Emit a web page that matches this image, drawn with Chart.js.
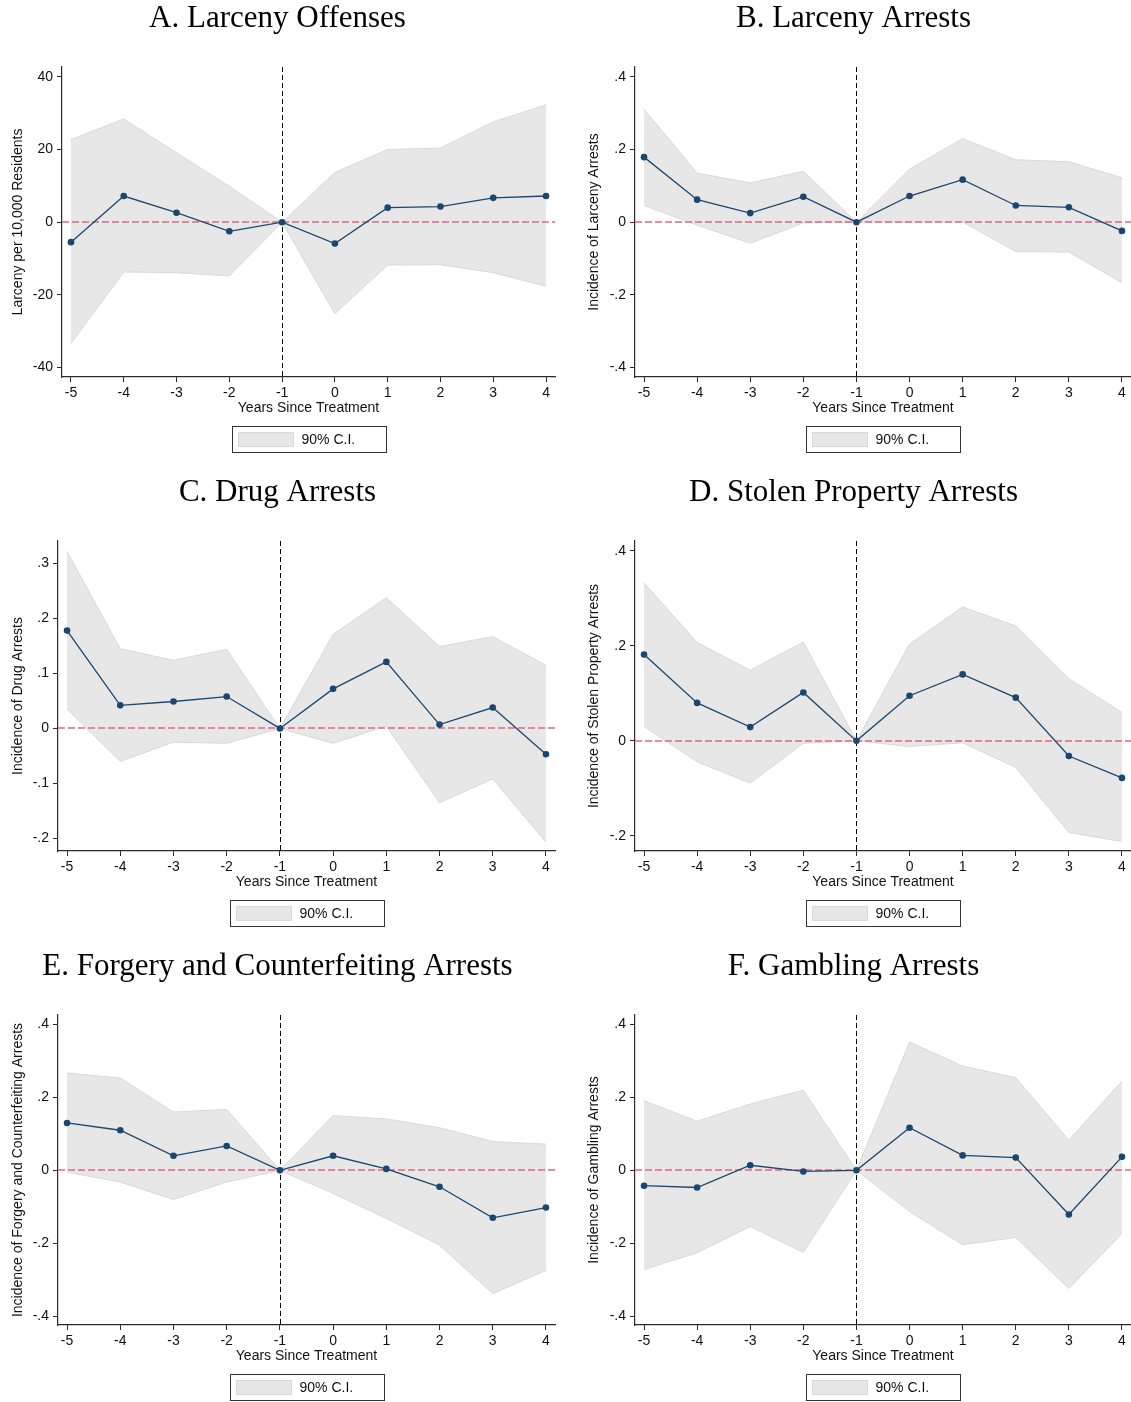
<!DOCTYPE html>
<html>
<head>
<meta charset="utf-8">
<script src="https://cdn.jsdelivr.net/npm/chart.js@4.4.1/dist/chart.umd.min.js"></script>
<style>
  html, body { margin: 0; padding: 0; background: #fff; }
  #wrap { position: relative; width: 1131px; height: 1402px; overflow: hidden; background: #fff; }
  #wrap canvas { position: absolute; }
</style>
</head>
<body>
<div id="wrap"></div>
<script>
// Event-time axis: years relative to treatment
const years = [-5, -4, -3, -2, -1, 0, 1, 2, 3, 4];
const treatYear = -1;
const zeroRef = 0;

// A. Larceny offenses per 10,000 residents
const larcOffEst = [-5.5, 7.2, 2.6, -2.5, 0, -5.9, 4.0, 4.3, 6.7, 7.2];
const larcOffHi  = [22.7, 28.4, 19.1, 9.9, 0, 13.7, 20.0, 20.4, 27.6, 32.3];
const larcOffLo  = [-33.4, -13.7, -13.9, -14.8, 0, -25.2, -11.8, -11.7, -13.9, -17.6];
const larcOffTicks = [-40, -20, 0, 20, 40];

// B. Larceny arrests
const larcArrEst = [0.179, 0.062, 0.025, 0.070, 0, 0.072, 0.117, 0.046, 0.041, -0.024];
const larcArrHi  = [0.311, 0.135, 0.108, 0.140, 0, 0.146, 0.230, 0.172, 0.166, 0.122];
const larcArrLo  = [0.046, -0.008, -0.058, -0.002, 0, 0.000, 0.001, -0.081, -0.082, -0.167];
const larcArrTicks = [-0.4, -0.2, 0, 0.2, 0.4];

// C. Drug arrests
const drugEst = [0.178, 0.042, 0.049, 0.058, 0, 0.072, 0.121, 0.007, 0.038, -0.047];
const drugHi  = [0.322, 0.145, 0.124, 0.144, 0, 0.171, 0.238, 0.149, 0.167, 0.115];
const drugLo  = [0.035, -0.060, -0.025, -0.027, 0, -0.027, 0.004, -0.135, -0.092, -0.207];
const drugTicks = [-0.2, -0.1, 0, 0.1, 0.2, 0.3];

// D. Stolen property arrests
const stolenEst = [0.182, 0.080, 0.029, 0.102, 0, 0.095, 0.140, 0.091, -0.032, -0.078];
const stolenHi  = [0.333, 0.207, 0.149, 0.208, 0, 0.204, 0.282, 0.242, 0.131, 0.060];
const stolenLo  = [0.030, -0.044, -0.089, -0.005, 0, -0.012, -0.004, -0.056, -0.193, -0.212];
const stolenTicks = [-0.2, 0, 0.2, 0.4];

// E. Forgery and counterfeiting arrests
const forgeryEst = [0.130, 0.110, 0.040, 0.067, 0, 0.040, 0.004, -0.045, -0.130, -0.102];
const forgeryHi  = [0.267, 0.253, 0.160, 0.167, 0, 0.150, 0.141, 0.117, 0.079, 0.072];
const forgeryLo  = [-0.005, -0.032, -0.080, -0.032, 0, -0.063, -0.132, -0.205, -0.338, -0.274];
const forgeryTicks = [-0.4, -0.2, 0, 0.2, 0.4];

// F. Gambling arrests
const gamblingEst = [-0.042, -0.047, 0.014, -0.003, 0, 0.117, 0.041, 0.035, -0.121, 0.037];
const gamblingHi  = [0.191, 0.135, 0.182, 0.220, 0, 0.352, 0.286, 0.254, 0.083, 0.245];
const gamblingLo  = [-0.272, -0.226, -0.154, -0.225, 0, -0.113, -0.204, -0.184, -0.324, -0.173];
const gamblingTicks = [-0.4, -0.2, 0, 0.2, 0.4];

const ciLabel = '90% C.I.';
const xTitle = 'Years Since Treatment';

// Panel descriptions (text + data references)
const panels = [
  { title: 'A. Larceny Offenses', yTitle: 'Larceny per 10,000 Residents',
    est: larcOffEst, hi: larcOffHi, lo: larcOffLo, yTicks: larcOffTicks },
  { title: 'B. Larceny Arrests', yTitle: 'Incidence of Larceny Arrests',
    est: larcArrEst, hi: larcArrHi, lo: larcArrLo, yTicks: larcArrTicks },
  { title: 'C. Drug Arrests', yTitle: 'Incidence of Drug Arrests',
    est: drugEst, hi: drugHi, lo: drugLo, yTicks: drugTicks },
  { title: 'D. Stolen Property Arrests', yTitle: 'Incidence of Stolen Property Arrests',
    est: stolenEst, hi: stolenHi, lo: stolenLo, yTicks: stolenTicks },
  { title: 'E. Forgery and Counterfeiting Arrests', yTitle: 'Incidence of Forgery and Counterfeiting Arrests',
    est: forgeryEst, hi: forgeryHi, lo: forgeryLo, yTicks: forgeryTicks },
  { title: 'F. Gambling Arrests', yTitle: 'Incidence of Gambling Arrests',
    est: gamblingEst, hi: gamblingHi, lo: gamblingLo, yTicks: gamblingTicks }
];

// Layout / axis extents for each panel (kept apart from the data)
const layout = [
  { yMin: -42.6, yMax: 42.7, axisW: 62 },
  { yMin: -0.426, yMax: 0.427, axisW: 59 },
  { yMin: -0.223, yMax: 0.341, axisW: 58 },
  { yMin: -0.232, yMax: 0.421, axisW: 59 },
  { yMin: -0.424, yMax: 0.426, axisW: 58 },
  { yMin: -0.424, yMax: 0.426, axisW: 59 }
];
const COL_X = [0, 576];
const ROW_Y = [0, 474, 948];
const PANEL_W = 565, PANEL_H = 474;
const X_MIN = -5.17, X_MAX = 4.17;

const SANS = '"Liberation Sans", Arial, Helvetica, sans-serif';
const SERIF = '"Liberation Serif", "Times New Roman", serif';
const NAVY = '#1a476f';
const BAND_FILL = '#e7e7e7';
const BAND_EDGE = '#d9d9d9';
const AXIS = '#2b2b2b';
const ZERO_RED = '#e26585';

Chart.defaults.font.family = SANS;
Chart.defaults.font.size = 14;
Chart.defaults.color = '#111';

// Stata-style numeric labels: .2, -.4, 0, 40
function fmt(v) {
  const r = Math.round(v * 1000) / 1000;
  return String(r).replace(/^(-?)0\./, '$1.');
}

// Reference lines: dashed zero line and dashed treatment marker, drawn over the band
const refLines = {
  id: 'refLines',
  afterDatasetDraw(chart, args) {
    if (args.index !== 1) return;
    const { ctx, chartArea: a, scales: { x, y } } = chart;
    ctx.save();
    const y0 = Math.round(y.getPixelForValue(zeroRef));
    ctx.lineWidth = 1.4;
    ctx.strokeStyle = ZERO_RED;
    ctx.setLineDash([7, 3]);
    ctx.beginPath(); ctx.moveTo(a.left, y0); ctx.lineTo(a.right, y0); ctx.stroke();
    const xv = Math.round(x.getPixelForValue(treatYear)) + 0.5;
    ctx.lineWidth = 1;
    ctx.strokeStyle = '#000';
    ctx.setLineDash([5, 3]);
    ctx.beginPath(); ctx.moveTo(xv, a.top); ctx.lineTo(xv, a.bottom); ctx.stroke();
    ctx.restore();
  }
};

// Boxed legend under the x-axis title, centred on the plot region
const boxedLegend = {
  id: 'boxedLegend',
  afterDraw(chart) {
    const { ctx, chartArea: a } = chart;
    const ds = chart.data.datasets[1];
    const w = 154, h = 26;
    const left = Math.round((a.left + a.right) / 2 - w / 2) + 0.5;
    const top = Math.round(a.bottom + 49) + 0.5;
    ctx.save();
    ctx.strokeStyle = '#333';
    ctx.lineWidth = 1;
    ctx.strokeRect(left, top, w, h);
    ctx.fillStyle = ds.backgroundColor;
    ctx.fillRect(left + 6, top + 6, 55, 14);
    ctx.strokeStyle = BAND_EDGE;
    ctx.strokeRect(left + 6, top + 6, 55, 14);
    ctx.fillStyle = '#111';
    ctx.font = '14px ' + SANS;
    ctx.textBaseline = 'middle';
    ctx.textAlign = 'left';
    ctx.fillText(ds.label, left + 69, top + h / 2 + 1);
    ctx.restore();
  }
};

const wrap = document.getElementById('wrap');

panels.forEach((p, i) => {
  const L = layout[i];
  const canvas = document.createElement('canvas');
  canvas.width = PANEL_W;
  canvas.height = PANEL_H;
  canvas.style.left = COL_X[i % 2] + 'px';
  canvas.style.top = ROW_Y[Math.floor(i / 2)] + 'px';
  canvas.style.width = PANEL_W + 'px';
  canvas.style.height = PANEL_H + 'px';
  wrap.appendChild(canvas);

  const pts = arr => years.map((yr, k) => ({ x: yr, y: arr[k] }));

  new Chart(canvas, {
    type: 'line',
    data: {
      datasets: [
        {
          label: 'Estimate',
          data: pts(p.est),
          borderColor: NAVY,
          borderWidth: 1.3,
          pointRadius: 3.3,
          pointBackgroundColor: NAVY,
          pointBorderWidth: 0,
          tension: 0,
          fill: false
        },
        {
          label: ciLabel,
          data: pts(p.hi),
          borderColor: BAND_EDGE,
          borderWidth: 1,
          backgroundColor: BAND_FILL,
          pointRadius: 0,
          tension: 0,
          fill: '+1'
        },
        {
          label: 'lower',
          data: pts(p.lo),
          borderColor: BAND_EDGE,
          borderWidth: 1,
          pointRadius: 0,
          tension: 0,
          fill: false
        }
      ]
    },
    options: {
      responsive: false,
      animation: false,
      devicePixelRatio: 1,
      layout: { padding: { top: 0, right: 10, bottom: 57, left: 0 } },
      plugins: {
        legend: { display: false },
        tooltip: { enabled: false },
        filler: { drawTime: 'beforeDatasetsDraw' },
        title: {
          display: true,
          text: p.title,
          color: '#000',
          font: { family: SERIF, size: 31, weight: 'normal', lineHeight: 1.1 },
          padding: { top: 2, bottom: 30.9 }
        }
      },
      scales: {
        x: {
          type: 'linear',
          min: X_MIN,
          max: X_MAX,
          afterBuildTicks: s => { s.ticks = years.map(v => ({ value: v })); },
          afterFit: s => { s.height = 40; s.paddingLeft = 0; s.paddingRight = 0; },
          ticks: { autoSkip: false, maxRotation: 0, padding: 3, color: '#111', callback: v => fmt(v) },
          grid: { drawOnChartArea: false, drawTicks: true, tickLength: 5, tickColor: AXIS, tickWidth: 1 },
          border: { display: true, color: AXIS, width: 1.2 },
          title: { display: true, text: xTitle, color: '#111', font: { size: 14, lineHeight: 1.2 }, padding: { top: 0, bottom: 0 } }
        },
        y: {
          type: 'linear',
          min: L.yMin,
          max: L.yMax,
          afterBuildTicks: s => { s.ticks = p.yTicks.map(v => ({ value: v })); },
          afterFit: s => { s.width = L.axisW; s.paddingTop = 0; s.paddingBottom = 0; },
          ticks: { autoSkip: false, padding: 4, color: '#111', callback: v => fmt(v) },
          grid: { drawOnChartArea: false, drawTicks: true, tickLength: 5, tickColor: AXIS, tickWidth: 1 },
          border: { display: true, color: AXIS, width: 1.2 },
          title: { display: true, text: p.yTitle, color: '#111', font: { size: 14, lineHeight: 1.2 }, padding: { top: 9.5, bottom: 0 } }
        }
      }
    },
    plugins: [refLines, boxedLegend]
  });
});
</script>
</body>
</html>
